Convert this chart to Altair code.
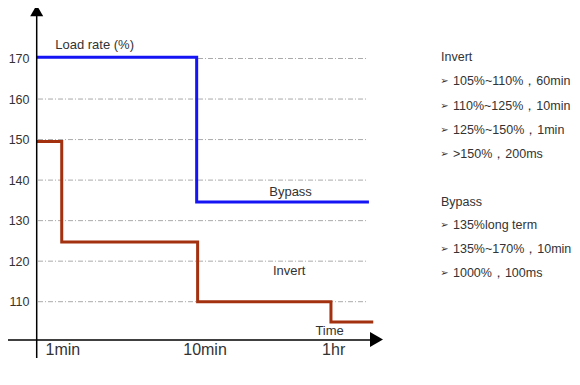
import altair as alt
import pandas as pd

# ---- data ----
# x is a "time position" (1 unit = one step on the picture's time axis)
invert_t = [0.0, 0.191, 1.2, 2.19, 2.504]
invert_v = [149.5, 124.7, 110.0, 105.0, 105.0]
bypass_t = [0.0, 1.193, 2.472]
bypass_v = [170.3, 134.6, 134.6]

y_ticks = [110, 120, 130, 140, 150, 160, 170]
grid_start = [0.015, 0.015, 0.015, 0.015, 0.015, 0.015, 1.203]
grid_end = 2.465

x_tick_labels = ["1min", "10min", "1hr"]
x_tick_pos = [0.2, 1.255, 2.21]

annot_text = ["Load rate (%)", "Bypass", "Invert", "Time"]
annot_x = [0.435, 1.89, 1.88, 2.18]
annot_y = [173.3, 137.0, 117.6, 102.8]

legend_invert = ["105%~110%，60min", "110%~125%，10min", "125%~150%，1min", ">150%，200ms"]
legend_bypass = ["135%long term", "135%~170%，10min", "1000%，100ms"]

FONT = "Liberation Sans"
W, H = 346, 332
XDOM = [0, 2.569]
YDOM = [100.55, 182.46]
xs = alt.Scale(domain=XDOM, nice=False, zero=False)
ys = alt.Scale(domain=YDOM, nice=False, zero=False)
yaxis = alt.Axis(values=y_ticks, domain=False, ticks=False, grid=False, labelFontSize=12.5,
                 labelPadding=7, labelColor="#333", labelFont=FONT, title=None)

inv = pd.DataFrame({"t": invert_t, "v": invert_v})
byp = pd.DataFrame({"t": bypass_t, "v": bypass_v})
grid = pd.DataFrame({"v": y_ticks, "x1": grid_start, "x2": [grid_end] * len(y_ticks)})
xt = pd.DataFrame({"t": x_tick_pos, "label": x_tick_labels})
an = pd.DataFrame({"t": annot_x, "v": annot_y, "label": annot_text})

gridl = alt.Chart(grid).mark_rule(color="#aaaaaa", strokeWidth=1, strokeDash=[5, 2, 1, 2]).encode(
    x=alt.X("x1:Q", scale=xs, axis=None), x2="x2:Q",
    y=alt.Y("v:Q", scale=ys, axis=yaxis))

lines = []
for df, col in [(inv, "#a3300f"), (byp, "#1414f5")]:
    lines.append(alt.Chart(df).mark_line(color=col, strokeWidth=3, interpolate="step-after",
                                         strokeJoin="miter").encode(
        x=alt.X("t:Q", scale=xs, axis=None),
        y=alt.Y("v:Q", scale=ys, axis=yaxis)))

xlab = alt.Chart(xt).mark_text(font=FONT, fontSize=16, color="#333", baseline="middle").encode(
    x=alt.X("t:Q", scale=xs, axis=None), y=alt.value(342), text="label:N")

ann = alt.Chart(an).mark_text(font=FONT, fontSize=13, color="#333", baseline="middle").encode(
    x=alt.X("t:Q", scale=xs, axis=None), y=alt.Y("v:Q", scale=ys, axis=yaxis), text="label:N")

# axes lines with arrows (decoration)
yline = alt.Chart(pd.DataFrame({"a": [0]})).mark_rule(color="black", strokeWidth=1.5).encode(
    x=alt.value(0.7), y=alt.value(8), y2=alt.value(350))
xline = alt.Chart(pd.DataFrame({"a": [0]})).mark_rule(color="black", strokeWidth=1.5).encode(
    x=alt.value(-34), x2=alt.value(336), y=alt.value(332))
yarrow = alt.Chart(pd.DataFrame({"a": [0]})).mark_point(shape="triangle-up", filled=True, size=169,
                                                        color="black", opacity=1).encode(
    x=alt.value(0.7), y=alt.value(2.6))
xarrow = alt.Chart(pd.DataFrame({"a": [0]})).mark_point(shape="triangle-right", filled=True, size=225,
                                                        color="black", opacity=1).encode(
    x=alt.value(340.5), y=alt.value(331.5))

# right-side legend text
rows = []
y0 = 49
rows.append({"txt": "Invert", "py": y0, "bullet": False})
for i, s in enumerate(legend_invert):
    rows.append({"txt": s, "py": y0 + 24.3 * (i + 1), "bullet": True})
y1 = 193.7
rows.append({"txt": "Bypass", "py": y1, "bullet": False})
for i, s in enumerate(legend_bypass):
    rows.append({"txt": s, "py": y1 + 23.6 * (i + 1), "bullet": True})
leg = pd.DataFrame(rows)

head = alt.Chart(leg[~leg.bullet]).mark_text(font=FONT, fontSize=12.5, color="#333", align="left",
                                              baseline="middle").encode(
    x=alt.value(405), y=alt.Y("py:Q", scale=None), text="txt:N")
items = alt.Chart(leg[leg.bullet]).mark_text(font=FONT, fontSize=12.5, color="#333", align="left",
                                              baseline="middle").encode(
    x=alt.value(417), y=alt.Y("py:Q", scale=None), text="txt:N")
bul = alt.Chart(leg[leg.bullet]).mark_text(font="DejaVu Sans", fontSize=10, color="#333", align="center",
                                            baseline="middle", text="➢").encode(
    x=alt.value(408.5), y=alt.Y("py:Q", scale=None))

chart = alt.layer(gridl, *lines, ann, xlab, yline, xline, yarrow, xarrow, head, items, bul).properties(
    width=W, height=H,
    autosize=alt.AutoSizeParams(type="none"),
    padding={"left": 28, "top": 0, "right": 190, "bottom": 30},
    background="white",
).configure_view(stroke=None)

chart.save("out.html", embed_options={"renderer": "svg", "actions": False})
